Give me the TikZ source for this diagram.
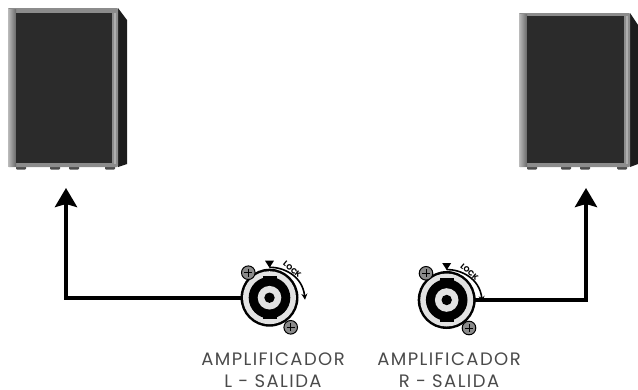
\documentclass[tikz,border=0pt]{standalone}
\usepackage{fontspec}
\setmainfont{Poppins}
\newfontfamily\lblfont[LetterSpace=8]{Poppins}
\usetikzlibrary{arrows.meta}
\definecolor{grille}{HTML}{2B2B2B}
\definecolor{frameg}{HTML}{8C8C8C}
\definecolor{sideb}{HTML}{1C1C1C}
\definecolor{ringg}{HTML}{E2E2E2}
\definecolor{screwg}{HTML}{8A8A8A}
\definecolor{labelg}{HTML}{4A4A4A}
\tikzset{
  x=1pt,y=-1pt,
  link/.style={draw=black,line width=4pt,-{Stealth[length=19pt,width=22pt,inset=3pt]}},
  jack/.style={circle,minimum size=56pt,inner sep=0pt},
  lbl/.style={font=\lblfont\fontsize{18}{22}\selectfont,text=labelg,align=center,inner sep=0pt},
  locktxt/.style={font=\fontsize{7.6}{9}\selectfont\bfseries,inner sep=0pt},
  pics/speaker/.style n args={8}{code={
    \fill[sideb] (#2,#3) -- (#5,#3+12) -- (#5,#4-3) -- (#2,#4) -- cycle;
    \foreach \f in {#1+13,#1+47,#1+66,#2-8}{\fill[black!70,rounded corners=1pt] (\f-5,#4-1) rectangle (\f+5,#4+2.5);}
    \fill[frameg,rounded corners=0.8pt] (#1,#3) rectangle (#2,#4);
    \fill[left color=frameg!60!white,right color=frameg!75!black] (#1,#3+1) rectangle (#6,#4-1);
    \fill[grille] (#6,#8) rectangle (#7,#4-4.5);
    \fill[frameg!70!white] (#7+2,#8) rectangle (#7+3.5,#4-3);
  }},
  pics/connector/.style={code={
    \fill[black] (0,0) circle (29);
    \fill[ringg] (0,0) circle (26.5);
    \fill[black] (0,0) circle (20.8);
    \fill[black] (-7,-21.7) rectangle (7,21.7);
    \fill[ringg] (0,0) circle (11.8);
    \fill[black] (0,0) circle (5.2);
  }},
  pics/screw/.style={code={
    \fill[screwg,draw=black,line width=1pt] (0,0) circle (6.8);
    \draw[black,line width=.9pt] (-4,0) -- (4,0) (0,-4) -- (0,4);
  }},
  pics/lockarc/.style={code={
    \draw[line width=1.6pt,-{Stealth[length=6pt,width=6pt]}] (0,-30.5) .. controls (14,-30.5) and (33,-22) .. (35.5,2);
    \fill (-4.5,-37) -- (4.5,-37) -- (0,-30) -- cycle;
  }}
}
\begin{document}
\begin{tikzpicture}
\useasboundingbox (0,0) rectangle (638,389);
% speakers
\pic at (0,0) {speaker={8}{118}{8}{167}{127}{16}{112}{13}};
\pic at (0,0) {speaker={519}{630}{13}{167}{638}{527}{624}{16}};
\coordinate (spkL) at (66,188);
\coordinate (spkR) at (586,188);
% left jack
\node[jack] (ampL) at (269.5,297.7) {};
\pic at (ampL.center) {lockarc};
\pic at (ampL.center) {connector};
\pic at (248.3,272.7) {screw};
\pic at (290.7,327.3) {screw};
\node[locktxt,rotate=-40] (lockL) at (292.3,269.5) {LOCK};
% right jack
\node[jack] (ampR) at (446.7,300) {};
\pic at (ampR.center) {lockarc};
\pic at (ampR.center) {connector};
\pic at (426,273.3) {screw};
\pic at (469,328) {screw};
\node[locktxt,rotate=-40] (lockR) at (469.5,271.8) {LOCK};
% links
\draw[link] (ampL.west) -| (spkL);
\draw[link] (ampR.east) -| (spkR);
% labels
\node[lbl] (txtL) at (273,370) {AMPLIFICADOR\\L - SALIDA};
\node[lbl] (txtR) at (449,370) {AMPLIFICADOR\\R - SALIDA};
\end{tikzpicture}
\end{document}
